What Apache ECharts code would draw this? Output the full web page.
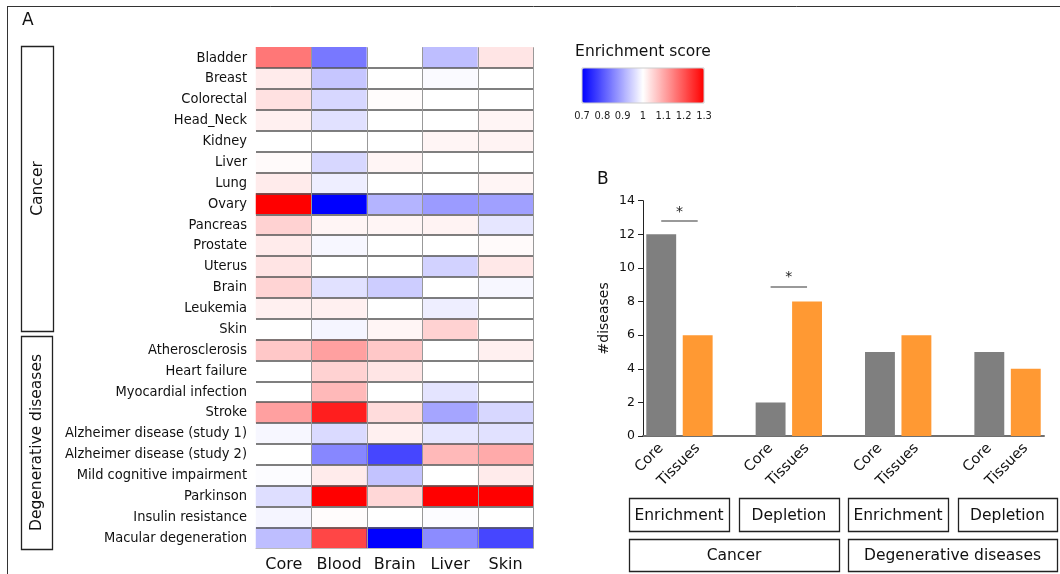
<!DOCTYPE html>
<html>
<head>
<meta charset="utf-8">
<script src="https://cdn.jsdelivr.net/npm/echarts@6/dist/echarts.min.js"></script>
<style>html,body{margin:0;padding:0;background:#fff}#c{width:1060px;height:574px}</style>
</head>
<body>
<div id="c"></div>
<script>
// ---- Panel A data ----
const diseaseRows = ['Bladder','Breast','Colorectal','Head_Neck','Kidney','Liver','Lung','Ovary','Pancreas','Prostate','Uterus','Brain','Leukemia','Skin',
  'Atherosclerosis','Heart failure','Myocardial infection','Stroke','Alzheimer disease (study 1)','Alzheimer disease (study 2)','Mild cognitive impairment','Parkinson','Insulin resistance','Macular degeneration'];
const tissueColumns = ['Core','Blood','Brain','Liver','Skin'];
const coreScores  = [1.16,1.024,1.035,1.018,1.0,1.006,1.024,1.3,1.053,1.024,1.032,1.051,1.018,1.0,1.065,1.0,1.0,1.112,0.99,1.0,0.997,0.961,0.988,0.924];
const bloodScores = [0.841,0.933,0.953,0.965,1.0,0.953,0.98,0.7,1.012,0.99,1.0,0.965,1.018,0.988,1.112,1.053,1.082,1.265,0.956,0.859,1.024,1.3,1.004,1.218];
const brainScores = [1.0,1.0,1.004,1.0,1.0,1.012,1.0,0.912,1.012,1.0,1.0,0.941,1.0,1.012,1.065,1.03,1.0,1.041,1.018,0.782,0.929,1.047,1.0,0.7];
const liverScores = [0.924,0.994,1.0,1.0,1.012,1.0,1.0,0.882,1.014,1.0,0.947,1.0,0.98,1.053,1.0,1.0,0.968,0.894,0.971,1.082,1.0,1.3,0.997,0.865];
const skinScores  = [1.03,1.0,1.0,1.012,1.014,1.0,1.012,0.888,0.971,1.006,1.027,0.99,1.0,1.0,1.018,1.0,1.0,0.953,0.965,1.1,1.024,1.3,1.0,0.782];
const scoreMin = 0.7, scoreMax = 1.3;
const colorbarTicks = ['0.7','0.8','0.9','1','1.1','1.2','1.3'];

// ---- Panel B data ----
const barGroups = ['Enrichment','Depletion','Enrichment','Depletion'];
const diseaseClasses = ['Cancer','Degenerative diseases'];
const coreCounts   = [12, 2, 5, 5];
const tissueCounts = [6, 8, 6, 4];
const sigLevels    = [12.8, 8.9, null, null];
const barTickLabels = ['Core','Tissues','','Core','Tissues','','Core','Tissues','','Core','Tissues'];
const yTicks = [0, 14, 2];

// ---- build ----
const FONT = 'DejaVu Sans';
const NARROW = "'DejaVu Sans Condensed', 'Liberation Sans', sans-serif";
const allCols = [coreScores, bloodScores, brainScores, liverScores, skinScores];
const heatData = [];
allCols.forEach((col, ci) => col.forEach((v, ri) => heatData.push([ci, ri, v])));

const slotKeys = barTickLabels.map((l, i) => 'slot' + i);
const coreSlots = barTickLabels.map(() => null);
const tissueSlots = barTickLabels.map(() => null);
coreCounts.forEach((v, g) => { coreSlots[3 * g] = v; });
tissueCounts.forEach((v, g) => { tissueSlots[3 * g + 1] = v; });
const sigLines = [];
sigLevels.forEach((lv, g) => { if (lv != null) sigLines.push([{ coord: [3 * g, lv] }, { coord: [3 * g + 1, lv] }]); });

const graphics = [];
graphics.push({ type: 'line', shape: { x1: 7, y1: 6.5, x2: 1060, y2: 6.5 }, style: { stroke: '#333', lineWidth: 1 } });
graphics.push({ type: 'line', shape: { x1: 7.5, y1: 6, x2: 7.5, y2: 574 }, style: { stroke: '#333', lineWidth: 1 } });
graphics.push({ type: 'text', x: 22, y: 21, style: { text: 'A', fontSize: 17, fontFamily: FONT, fill: '#111', verticalAlign: 'middle' } });
graphics.push({ type: 'text', x: 597, y: 180, style: { text: 'B', fontSize: 17, fontFamily: FONT, fill: '#111', verticalAlign: 'middle' } });
graphics.push({ type: 'text', x: 643, y: 52, style: { text: 'Enrichment score', fontSize: 15.5, fontFamily: FONT, fill: '#111', align: 'center', verticalAlign: 'middle' } });
graphics.push({ type: 'rect', z: 10, shape: { x: 582, y: 68, width: 122, height: 35 }, style: { fill: 'none', stroke: '#ccc', lineWidth: 1 } });
// left group brackets
const sideBoxes = [
  { text: diseaseClasses[0], x: 21, y: 46, w: 32, h: 285 },
  { text: diseaseClasses[1], x: 21, y: 336, w: 31, h: 213 }
];
sideBoxes.forEach(b => {
  graphics.push({ type: 'rect', shape: { x: b.x + 0.5, y: b.y + 0.5, width: b.w, height: b.h }, style: { fill: 'none', stroke: '#222', lineWidth: 1.3 } });
  graphics.push({ type: 'text', x: b.x + b.w / 2 + 0.5, y: b.y + b.h / 2, rotation: Math.PI / 2,
    style: { text: b.text, fontSize: 15.5, fontFamily: FONT, fill: '#111', align: 'center', verticalAlign: 'middle' } });
});
// bottom boxes
const bottomBoxes = [
  { text: barGroups[0], x: 629, y: 498, w: 100, h: 33 },
  { text: barGroups[1], x: 739, y: 498, w: 100, h: 33 },
  { text: barGroups[2], x: 848, y: 498, w: 100, h: 33 },
  { text: barGroups[3], x: 958, y: 498, w: 99, h: 33 },
  { text: diseaseClasses[0], x: 629, y: 539, w: 210, h: 32 },
  { text: diseaseClasses[1], x: 848, y: 539, w: 209, h: 32 }
];
bottomBoxes.forEach(b => {
  graphics.push({ type: 'rect', shape: { x: b.x + 0.5, y: b.y + 0.5, width: b.w, height: b.h }, style: { fill: 'none', stroke: '#222', lineWidth: 1.3 } });
  graphics.push({ type: 'text', x: b.x + b.w / 2, y: b.y + b.h / 2 + 1,
    style: { text: b.text, fontSize: 15.5, fontFamily: FONT, fill: '#111', align: 'center', verticalAlign: 'middle' } });
});

const chart = echarts.init(document.getElementById('c'));
chart.setOption({
  animation: false,
  textStyle: { fontFamily: FONT },
  grid: [
    { left: 256, top: 47.3, width: 277.3, height: 501 },
    { left: 643, top: 200.7, width: 401, height: 235.3 },
    { left: 582, top: 102, width: 122, height: 1 }
  ],
  xAxis: [
    { gridIndex: 0, type: 'category', data: tissueColumns, z: 5,
      axisLine: { show: true, lineStyle: { color: '#bbb', width: 1 } }, axisTick: { show: false },
      axisLabel: { interval: 0, fontSize: 16, color: '#111', margin: 9 },
      splitLine: { show: true, showMinLine: false, lineStyle: { color: '#999', width: 1 } } },
    { gridIndex: 1, type: 'category', data: slotKeys,
      axisLine: { show: true, lineStyle: { color: '#707070', width: 2 } }, axisTick: { show: false },
      axisLabel: { interval: 0, rotate: 45, fontSize: 14.5, color: '#111', margin: 10, formatter: (v, i) => barTickLabels[i] },
      splitLine: { show: false } },
    { gridIndex: 2, type: 'value', min: 7, max: 13, interval: 1,
      axisLine: { show: false }, axisTick: { show: false }, splitLine: { show: false },
      axisLabel: { fontSize: 11, fontFamily: NARROW, color: '#222', margin: 8, formatter: (v, i) => colorbarTicks[i] } }
  ],
  yAxis: [
    { gridIndex: 0, type: 'category', data: diseaseRows, inverse: true, z: 5,
      axisLine: { show: false }, axisTick: { show: false },
      axisLabel: { interval: 0, fontSize: 14.5, fontFamily: NARROW, color: '#111', margin: 9, padding: [4, 0, 0, 0] },
      splitLine: { show: true, showMinLine: false, showMaxLine: false, lineStyle: { color: '#555', width: 1.5 } } },
    { gridIndex: 1, type: 'value', min: yTicks[0], max: yTicks[1], interval: yTicks[2],
      name: '#diseases', nameLocation: 'middle', nameGap: 32, nameTextStyle: { fontSize: 14, color: '#111' },
      axisLine: { show: true, lineStyle: { color: '#222', width: 1 } },
      axisTick: { show: true, length: 5, lineStyle: { color: '#222' } },
      axisLabel: { fontSize: 12.5, color: '#111', margin: 8 }, splitLine: { show: false } },
    { gridIndex: 2, type: 'value', show: false }
  ],
  visualMap: [{
    type: 'continuous', seriesIndex: 0, dimension: 2, min: scoreMin, max: scoreMax,
    orient: 'horizontal', left: 582, top: 68, itemWidth: 35, itemHeight: 122, padding: 0,
    calculable: false, hoverLink: false, text: null,
    inRange: { color: ['#0000ff', '#ffffff', '#ff0000'] }
  }],
  series: [
    { type: 'heatmap', xAxisIndex: 0, yAxisIndex: 0, data: heatData, emphasis: { disabled: true }, itemStyle: { borderWidth: 0 } },
    { type: 'bar', name: 'Core', xAxisIndex: 1, yAxisIndex: 1, data: coreSlots, barWidth: '82%', barGap: '-100%',
      itemStyle: { color: '#7f7f7f' },
      markLine: { symbol: 'none', silent: true, data: sigLines,
        lineStyle: { color: '#999', width: 2, type: 'solid' },
        label: { show: true, position: 'middle', formatter: '*', fontSize: 14, color: '#222', distance: 2 } } },
    { type: 'bar', name: 'Tissues', xAxisIndex: 1, yAxisIndex: 1, data: tissueSlots, barWidth: '82%', barGap: '-100%',
      itemStyle: { color: '#ff9933' } }
  ],
  graphic: graphics
});
</script>
</body>
</html>
